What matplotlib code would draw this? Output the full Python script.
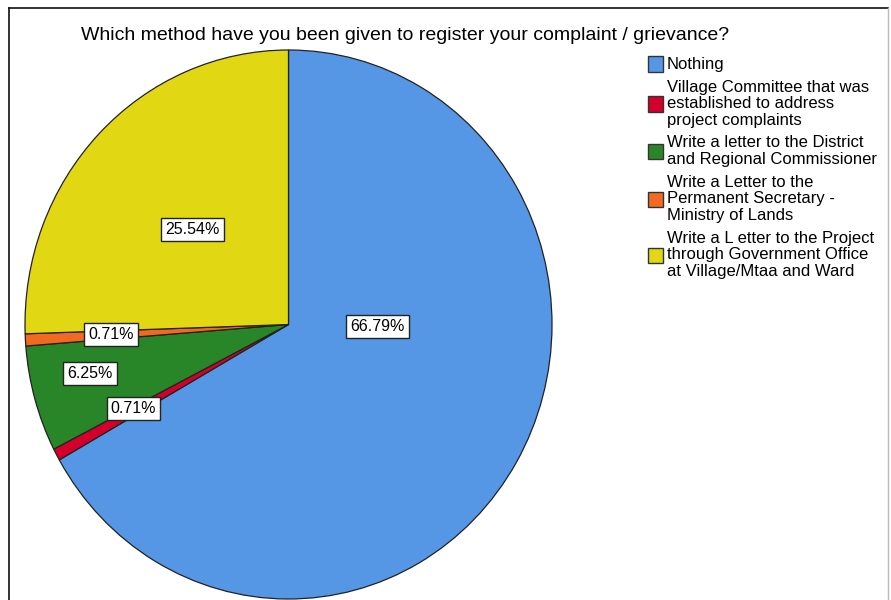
import matplotlib
matplotlib.use("Agg")
import matplotlib.pyplot as plt
from matplotlib.patches import Rectangle
from matplotlib.lines import Line2D

plt.rcParams['font.family'] = ['Liberation Sans', 'DejaVu Sans']

title = "Which method have you been given to register your complaint / grievance?"
categories = [
    "Nothing",
    "Village Committee that was\nestablished to address\nproject complaints",
    "Write a letter to the District\nand Regional Commissioner",
    "Write a Letter to the\nPermanent Secretary -\nMinistry of Lands",
    "Write a L etter to the Project\nthrough Government Office\nat Village/Mtaa and Ward",
]
percentages = [66.79, 0.71, 6.25, 0.71, 25.54]
colors = ["#5596E5", "#D2002A", "#288628", "#F26A22", "#E2D713"]

# label positions (in pie-radius units), layout only
label_pos = [(0.338, -0.007), (-0.589, -0.307), (-0.753, -0.179), (-0.673, -0.036), (-0.365, 0.347)]

W, H = 891, 600
fig = plt.figure(figsize=(W / 100, H / 100), dpi=100)

def px_rect(x0, y0, x1, y1):
    return [x0 / W, 1 - y1 / H, (x1 - x0) / W, (y1 - y0) / H]

ax = fig.add_axes(px_rect(25, 50, 552, 599))
wedges, _ = ax.pie(percentages, colors=colors, startangle=90, counterclock=False,
                   wedgeprops=dict(edgecolor="#222222", linewidth=0.9))
ax.set_aspect('auto')
ax.set_xlim(-1, 1)
ax.set_ylim(-1, 1)
ax.axis('off')

for (lx, ly), p in zip(label_pos, percentages):
    ax.text(lx, ly, f"{p:.2f}%", ha='center', va='center', fontsize=11.5,
            bbox=dict(boxstyle='square,pad=0.25', facecolor='white', edgecolor='#222222', linewidth=1.0))

fig.text(405 / W, 1 - 35 / H, title, ha='center', va='center', fontsize=14)

# legend
leg_y = [64, 104, 151, 199, 255]
for y, c, lab in zip(leg_y, colors, categories):
    fig.patches.append(Rectangle((648 / W, 1 - (y + 7.5) / H), 15 / W, 15 / H,
                                 transform=fig.transFigure, facecolor=c,
                                 edgecolor='#333333', linewidth=1.0))
    fig.text(667 / W, 1 - y / H, lab, ha='left', va='center', fontsize=12,
             linespacing=1.15)

# frame
fig.lines.append(Line2D([9 / W, 9 / W], [0, 1 - 8 / H], transform=fig.transFigure, color='#111111', linewidth=1.2))
fig.lines.append(Line2D([9 / W, 888 / W], [1 - 8 / H, 1 - 8 / H], transform=fig.transFigure, color='#111111', linewidth=1.2))
fig.lines.append(Line2D([888 / W, 888 / W], [0, 1 - 8 / H], transform=fig.transFigure, color='#bbbbbb', linewidth=1.0))

fig.savefig("out.png", dpi=100)
